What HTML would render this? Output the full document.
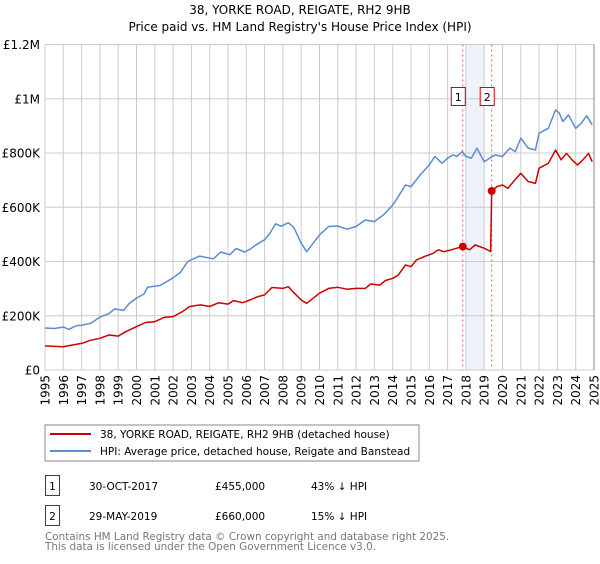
<!DOCTYPE html>
<html><head><meta charset="utf-8"><style>
body{margin:0;background:#fff;font-family:"DejaVu Sans","Liberation Sans",sans-serif;}
svg text{font-family:"DejaVu Sans","Liberation Sans",sans-serif;}
</style></head><body>
<svg id="c" width="600" height="560" xmlns="http://www.w3.org/2000/svg">
<text x="300" y="14" text-anchor="middle" font-size="12" fill="#000">38, YORKE ROAD, REIGATE, RH2 9HB</text>
<text x="300" y="31" text-anchor="middle" font-size="12" fill="#000">Price paid vs. HM Land Registry's House Price Index (HPI)</text>
<g id="grid"></g><g id="marks"></g><g id="axes"></g>
<g>
<rect x="45" y="425" width="374" height="36" fill="#fff" stroke="#888"/>
<line x1="50" y1="434" x2="91" y2="434" stroke="#cc0000" stroke-width="2"/>
<text x="100" y="438" font-size="10.5">38, YORKE ROAD, REIGATE, RH2 9HB (detached house)</text>
<line x1="50" y1="451" x2="91" y2="451" stroke="#5b8bd0" stroke-width="2"/>
<text x="100" y="455" font-size="10.5">HPI: Average price, detached house, Reigate and Banstead</text>
</g>
<g font-size="10.5">
<rect x="45.5" y="475.5" width="14" height="20" fill="#fff" stroke="#cc0000"/>
<text x="52.5" y="490" text-anchor="middle">1</text>
<text x="89" y="490">30-OCT-2017</text>
<text x="215" y="490">£455,000</text>
<text x="311" y="490">43% ↓ HPI</text>
<rect x="45.5" y="505.5" width="14" height="20" fill="#fff" stroke="#cc0000"/>
<text x="52.5" y="520" text-anchor="middle">2</text>
<text x="89" y="520">29-MAY-2019</text>
<text x="215" y="520">£660,000</text>
<text x="311" y="520">15% ↓ HPI</text>
</g>
<text x="45" y="540" font-size="10.4" fill="#777">Contains HM Land Registry data © Crown copyright and database right 2025.</text>
<text x="45" y="550" font-size="10.4" fill="#777">This data is licensed under the Open Government Licence v3.0.</text>
</svg>
<script>
const hpiYears=[1995,1995.5,1996,1996.3,1996.7,1997,1997.5,1998,1998.5,1998.8,1999.3,1999.6,2000,2000.4,2000.6,2001.3,2002,2002.4,2002.8,2003.45,2004.2,2004.6,2005.1,2005.45,2005.9,2006.2,2006.5,2007,2007.3,2007.6,2007.9,2008.3,2008.6,2009,2009.3,2010,2010.5,2011,2011.5,2012,2012.5,2013,2013.5,2014,2014.3,2014.7,2015,2015.5,2016,2016.3,2016.7,2017,2017.3,2017.5,2017.8,2018,2018.3,2018.6,2019,2019.3,2019.6,2020,2020.4,2020.7,2021,2021.4,2021.8,2022,2022.5,2022.9,2023.1,2023.3,2023.6,2024,2024.3,2024.6,2024.9];
const hpiValues=[155,153,158,150,163,165,172,195,208,225,220,245,265,280,305,312,340,360,400,420,410,435,425,448,435,445,460,480,505,539,530,543,525,467,436,498,529,531,519,529,553,547,572,608,639,682,676,719,756,787,762,781,793,787,805,787,781,818,768,781,793,787,818,805,855,818,811,873,891,959,947,916,940,891,910,937,904];
const priceYears=[1995,1996,1996.5,1997,1997.5,1998,1998.5,1999,1999.4,2000,2000.5,2001,2001.5,2002,2002.5,2002.9,2003.5,2004,2004.5,2005,2005.3,2005.8,2006.2,2006.6,2007,2007.4,2008,2008.3,2008.6,2009,2009.3,2010,2010.5,2011,2011.5,2012,2012.5,2012.8,2013.3,2013.6,2014,2014.3,2014.7,2015,2015.3,2015.8,2016.2,2016.5,2016.8,2017.2,2017.5,2017.83,2018.2,2018.5,2019,2019.35,2019.41,2019.7,2020,2020.3,2020.6,2021,2021.4,2021.8,2022,2022.5,2022.9,2023.2,2023.5,2023.8,2024.1,2024.4,2024.7,2024.9];
const priceValues=[89,86,92,98,110,117,129,125,141,160,175,178,194,197,215,234,240,234,248,243,256,248,258,270,277,304,301,307,285,258,246,283,301,305,298,301,301,317,313,330,338,350,387,381,406,420,430,443,436,443,449,455,443,461,449,437,660,676,682,670,695,725,695,688,744,762,811,775,799,775,756,775,799,768];
const saleYears=[2017.83,2019.41];
const saleValues=[455,660];
const yTicks=[0,200,400,600,800,1000,1200];
const yTickLabels=["£0","£200K","£400K","£600K","£800K","£1M","£1.2M"];
const xTicks=[1995,1996,1997,1998,1999,2000,2001,2002,2003,2004,2005,2006,2007,2008,2009,2010,2011,2012,2013,2014,2015,2016,2017,2018,2019,2020,2021,2022,2023,2024,2025];

const NS="http://www.w3.org/2000/svg";
const X0=45,X1=594,Y0=370,Y1=44.5;
const xs=y=>X0+(y-1995)/30*(X1-X0);
const ys=v=>Y0-v/1200*(Y0-Y1);
function mk(tag,attrs,parent){const e=document.createElementNS(NS,tag);for(const k in attrs)e.setAttribute(k,attrs[k]);parent.appendChild(e);return e;}
const grid=document.getElementById('grid'),marks=document.getElementById('marks'),axes=document.getElementById('axes');
let band=mk('rect',{x:xs(2018),y:Y1,width:xs(2019)-xs(2018),height:Y0-Y1,fill:'#eef2fb'},grid);


yTicks.forEach((t,i)=>{
  const l=mk('line',{x1:X0,x2:X1,y1:ys(t),y2:ys(t),stroke:'#ccc','stroke-width':1},grid);
  
  
  const tx=mk('text',{x:X0-5,y:ys(t)+4.5,'text-anchor':'end','font-size':12},axes);
  tx.textContent=yTickLabels[i];
  
  
});
xTicks.forEach(t=>{
  const l=mk('line',{x1:xs(t),x2:xs(t),y1:Y1,y2:Y0,stroke:'#ccc','stroke-width':1},grid);
  
  
  const tx=mk('text',{x:0,y:0,'text-anchor':'end','font-size':12,transform:`translate(${xs(t)+4.5},${Y0+5}) rotate(-90)`},axes);
  tx.textContent=t;
  
  
});
saleYears.forEach((y,i)=>{
  const l=mk('line',{x1:xs(y),x2:xs(y),y1:Y1,y2:Y0,stroke:'#e06060','stroke-width':1,'stroke-dasharray':'2,3'},grid);
  
  
});
function path(xa,va,color,name){
  const d=xa.map((x,i)=>(i?'L':'M')+xs(x).toFixed(1)+','+ys(va[i]).toFixed(1)).join('');
  const p=mk('path',{d:d,fill:'none',stroke:color,'stroke-width':1.5,'stroke-linejoin':'round'},marks);
  
  
}
path(hpiYears,hpiValues,'#5b8bd0','hpi-line');
path(priceYears,priceValues,'#cc0000','property-price-line');
saleYears.forEach((y,i)=>{
  const c=mk('circle',{cx:xs(y),cy:ys(saleValues[i]),r:4,fill:'#cc0000'},marks);
  
  
  const r=mk('rect',{x:xs(y)-11.5,y:87.5,width:14,height:18,fill:'#fff',stroke:'#cc0000'},marks);
  
  
  const t=mk('text',{x:xs(y)-4.5,y:101,'text-anchor':'middle','font-size':11},marks);
  t.textContent=String(i+1);
  
  
});
const rb=mk('line',{x1:X1,x2:X1,y1:Y1,y2:Y0,stroke:'#888'},axes);


</script>
</body></html>
